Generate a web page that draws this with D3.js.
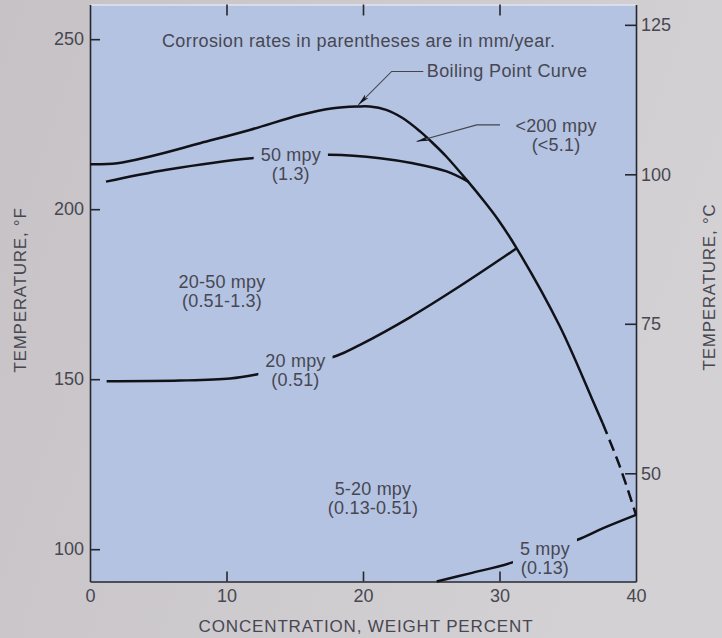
<!DOCTYPE html>
<html>
<head>
<meta charset="utf-8">
<script src="https://cdn.jsdelivr.net/npm/d3@7"></script>
<style>
  html, body { margin: 0; padding: 0; background: #cac7cb; }
  svg { display: block; }
  text { font-family: "Liberation Sans", Arial, Helvetica, sans-serif; }
</style>
</head>
<body>
<svg id="chart" width="722" height="638"></svg>
<script>
// Isocorrosion diagram: concentration (weight %) vs. temperature (°F / °C)
const concentrationTicks = [0, 10, 20, 30, 40];
const topTicks = [10, 20, 30];
const fahrenheitTicks = [100, 150, 200, 250];
const celsiusTicks = [50, 75, 100, 125];

// Boiling point curve, [weight %, °F]
const boilingPoint = [
  [0, 213.2], [2, 213.5], [4.4, 215.5], [8.06, 219.4], [11.7, 223.3],
  [15.4, 227.7], [17.8, 229.7], [19.6, 230.2], [20.5, 230.2], [21.7, 229.2],
  [22.9, 226.8], [24.2, 222.8], [25.1, 219.5], [26.1, 215.5], [27.7, 208.1],
  [28.8, 202.7], [29.9, 196.9], [31.26, 188.5], [34.4, 165.7], [36.75, 144.5],
  [37.55, 137.1]
];
// Extrapolated end of the boiling point curve (dashed)
const boilingPointExtrapolated = [[37.55, 137.1], [38.8, 124.5], [40, 110.1]];

// Isocorrosion lines, [weight %, °F]
const iso50mpy = [
  [1.17, 208.1], [5.62, 211.6], [11.85, 215.0], [17.58, 216.0],
  [21.25, 215.0], [23.66, 213.5], [26.13, 211.1], [27.71, 208.1]
];
const iso20mpy = [
  [1.22, 149.4], [6.59, 149.6], [10.26, 150.2], [12.09, 151.3], [18.07, 156.9],
  [19.78, 160.1], [23.44, 168.2], [27.11, 177.4], [31.26, 188.5]
];
const iso5mpy = [
  [25.4, 90.5], [27.84, 92.9], [30.77, 95.9], [35.66, 102.7], [37.6, 106.2], [40, 110.1]
];

// Text labels anchored at [weight %, °F]
const rateLabels = [
  { lines: ["50 mpy", "(1.3)"], at: [14.71, 214.3], gap: true },
  { lines: ["20-50 mpy", "(0.51-1.3)"], at: [9.67, 176.8] },
  { lines: ["20 mpy", "(0.51)"], at: [15.05, 153.7], gap: true },
  { lines: ["5-20 mpy", "(0.13-0.51)"], at: [20.73, 116.0] },
  { lines: ["5 mpy", "(0.13)"], at: [33.33, 98.3], gap: true },
  { lines: ["<200 mpy", "(<5.1)"], at: [34.14, 222.8] }
];
const noteText = "Corrosion rates in parentheses are in mm/year.";
const noteAt = [5.27, 247.8];
const boilingLabel = "Boiling Point Curve";
const boilingLabelAt = [24.67, 238.8];
// Leader lines: [text end, elbow, arrow tip]
const boilingLeader = [[24.42, 240.5], [22.1, 240.5], [19.66, 230.7]];
const rateLeader = [[30.04, 224.8], [28.33, 224.8], [23.93, 219.9]];

const xTitle = "CONCENTRATION, WEIGHT PERCENT";
const yTitleF = "TEMPERATURE, °F";
const yTitleC = "TEMPERATURE, °C";

const W = 722, H = 638;
const plot = { left: 90, right: 636, top: 4.5, bottom: 581.5 };

const x = d3.scaleLinear().domain([0, 40]).range([plot.left, plot.right]);
const y = d3.scaleLinear().domain([90.5, 260.2]).range([plot.bottom, plot.top]);
const yC = d3.scaleLinear().domain([31.9, 128.4]).range([plot.bottom, plot.top]);

const svg = d3.select("#chart");
const defs = svg.append("defs");

const bg = defs.append("linearGradient").attr("id", "paper")
  .attr("x1", 0).attr("y1", 0).attr("x2", 1).attr("y2", 0.3);
bg.append("stop").attr("offset", 0).attr("stop-color", "#c6c2c6");
bg.append("stop").attr("offset", 1).attr("stop-color", "#d4d1d4");

defs.append("marker").attr("id", "arrowhead")
  .attr("viewBox", "0 0 12 6").attr("refX", 12).attr("refY", 3)
  .attr("markerWidth", 12).attr("markerHeight", 6)
  .attr("markerUnits", "userSpaceOnUse").attr("orient", "auto")
  .append("path").attr("d", "M0,0.6 L12,3 L0,5.4 L3,3 Z").attr("fill", "#15151c");

svg.append("rect").attr("width", W).attr("height", H).attr("fill", "url(#paper)");

svg.append("rect")
  .attr("x", x(0)).attr("y", y(260.2))
  .attr("width", x(40) - x(0)).attr("height", y(90.5) - y(260.2))
  .attr("fill", "#b4c3e2");

const ink = "#474752";
const axisInk = "#26262e";

// Axes
function styleAxis(g, lineColor) {
  g.select(".domain").attr("stroke", lineColor).attr("stroke-width", 1.6);
  g.selectAll(".tick line").attr("stroke", axisInk).attr("stroke-width", 1.6);
  g.selectAll(".tick text").attr("fill", ink).attr("font-size", 18)
    .attr("font-family", "\"Liberation Sans\", Arial, sans-serif");
}

svg.append("g").attr("transform", `translate(0,${plot.bottom})`)
  .call(d3.axisBottom(x).tickValues(concentrationTicks).tickSize(-10).tickSizeOuter(0).tickPadding(8))
  .call(g => styleAxis(g, axisInk))
  .call(g => g.selectAll(".tick line").filter(d => d === 0 || d === 40).remove());

svg.append("g").attr("transform", `translate(0,${plot.top})`)
  .call(d3.axisTop(x).tickValues(topTicks).tickSize(-11).tickSizeOuter(0).tickFormat(""))
  .call(g => styleAxis(g, "#e4e5ec"));

svg.append("g").attr("transform", `translate(${plot.left},0)`)
  .call(d3.axisLeft(y).tickValues(fahrenheitTicks).tickSize(-10).tickSizeOuter(0).tickPadding(6))
  .call(g => styleAxis(g, axisInk));

svg.append("g").attr("transform", `translate(${plot.right},0)`)
  .call(d3.axisRight(yC).tickValues(celsiusTicks).tickSize(-11).tickSizeOuter(0).tickPadding(5))
  .call(g => styleAxis(g, axisInk));

// Axis titles
svg.append("text")
  .attr("x", (plot.left + plot.right) / 2 + 3).attr("y", 631.5)
  .attr("text-anchor", "middle").attr("font-size", 17).attr("letter-spacing", 0.85)
  .attr("fill", ink).text(xTitle);

svg.append("text")
  .attr("transform", "translate(26,290) rotate(-90)")
  .attr("text-anchor", "middle").attr("font-size", 17).attr("letter-spacing", 0.75)
  .attr("fill", ink).text(yTitleF);

svg.append("text")
  .attr("transform", "translate(715,287) rotate(-90)")
  .attr("text-anchor", "middle").attr("font-size", 17).attr("letter-spacing", 0.75)
  .attr("fill", ink).text(yTitleC);

// Labels
const labelG = svg.append("g").attr("fill", ink).attr("font-size", 18);

labelG.append("text")
  .attr("x", x(noteAt[0])).attr("y", y(noteAt[1]))
  .attr("letter-spacing", 0.4).text(noteText);

labelG.append("text")
  .attr("x", x(boilingLabelAt[0])).attr("y", y(boilingLabelAt[1]))
  .attr("letter-spacing", 0.4).text(boilingLabel);

const rateText = labelG.selectAll("text.rate").data(rateLabels).join("text")
  .attr("class", "rate")
  .attr("text-anchor", "middle")
  .attr("letter-spacing", 0.2)
  .attr("transform", d => `translate(${x(d.at[0])},${y(d.at[1])})`);
rateText.selectAll("tspan").data(d => d.lines).join("tspan")
  .attr("x", 0).attr("y", (d, i) => i * 19)
  .text(d => d);

// Mask that opens gaps in the isocorrosion lines where their labels sit
const mask = defs.append("mask").attr("id", "labelGaps")
  .attr("maskUnits", "userSpaceOnUse").attr("x", 0).attr("y", 0)
  .attr("width", W).attr("height", H);
mask.append("rect").attr("width", W).attr("height", H).attr("fill", "#fff");
rateText.filter(d => d.gap).each(function (d) {
  const b = this.getBBox();
  const t = [x(d.at[0]), y(d.at[1])];
  mask.append("rect")
    .attr("x", t[0] + b.x - 7).attr("y", t[1] + b.y - 4)
    .attr("width", b.width + 14).attr("height", b.height + 8)
    .attr("fill", "#000");
});

// Curves
const line = d3.line().x(d => x(d[0])).y(d => y(d[1])).curve(d3.curveCatmullRom.alpha(0.5));
const curveG = svg.append("g").attr("fill", "none").attr("stroke", "#111118")
  .attr("stroke-width", 2.5).attr("stroke-linecap", "butt");

curveG.append("path").attr("d", line(boilingPoint));
curveG.append("path").attr("d", line(boilingPointExtrapolated))
  .attr("stroke-dasharray", "12,6");

const isoG = curveG.append("g").attr("mask", "url(#labelGaps)");
[iso50mpy, iso20mpy, iso5mpy].forEach(s => isoG.append("path").attr("d", line(s)));

// Leader lines with arrowheads
const leader = d3.line().x(d => x(d[0])).y(d => y(d[1]));
[boilingLeader, rateLeader].forEach(p => {
  svg.append("path").attr("d", leader(p))
    .attr("fill", "none").attr("stroke", "#44444c").attr("stroke-width", 1.1)
    .attr("marker-end", "url(#arrowhead)");
});
</script>
</body>
</html>
